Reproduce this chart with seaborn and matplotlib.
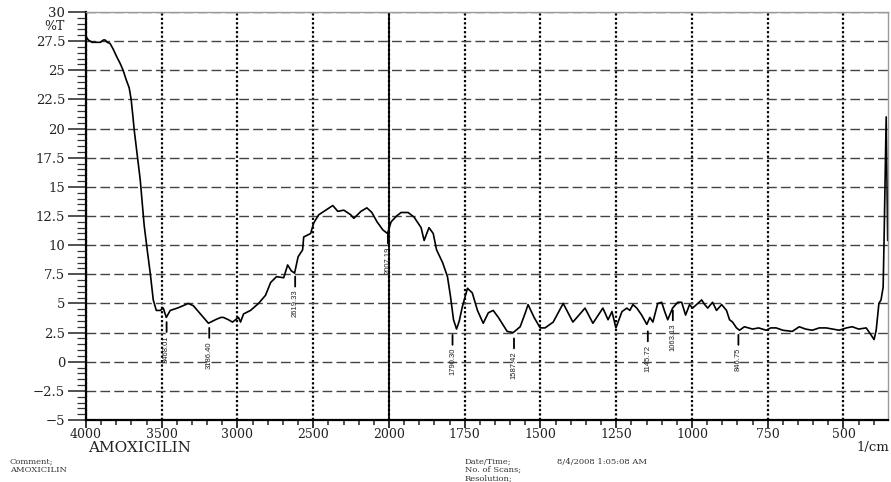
import numpy as np
import pandas as pd
import matplotlib
matplotlib.use("Agg")
import matplotlib.pyplot as plt
import seaborn as sns
from matplotlib.ticker import FixedLocator, FixedFormatter, NullFormatter

# ---------------- data ----------------
wavenumber = [4000, 3985, 3960, 3930, 3905, 3885, 3874, 3860, 3841, 3820, 3795, 3775, 3755,
              3735, 3715, 3702, 3690, 3682, 3660, 3642, 3616, 3596, 3576, 3556, 3536, 3510,
              3490, 3470, 3444, 3397, 3360, 3325, 3291, 3245, 3192, 3146, 3110, 3093, 3060,
              3033, 2993, 2980, 2960, 2914, 2861, 2815, 2781, 2742, 2695, 2669, 2645, 2623,
              2600, 2570, 2563, 2517, 2497, 2464, 2417, 2371, 2338, 2298, 2252, 2232, 2185,
              2146, 2113, 2079, 2040, 2010, 1993, 1975, 1960, 1937, 1917, 1894, 1884, 1868,
              1854, 1843, 1823, 1807, 1797, 1787, 1777, 1768, 1758, 1741, 1725, 1708, 1689,
              1672, 1656, 1639, 1610, 1590, 1567, 1550, 1541, 1521, 1501, 1485, 1458, 1425,
              1393, 1353, 1327, 1294, 1277, 1264, 1251, 1231, 1215, 1205, 1195, 1182, 1166,
              1149, 1139, 1129, 1113, 1100, 1090, 1080, 1064, 1047, 1034, 1021, 1008, 998,
              985, 968, 958, 948, 932, 919, 902, 886, 876, 866, 853, 843, 827, 800, 780, 755,
              740, 722, 700, 669, 646, 625, 603, 580, 557, 535, 514, 490, 471, 450, 425, 409,
              399, 392, 383, 376, 369, 366, 359, 354]
transmittance = [27.9, 27.6, 27.4, 27.4, 27.4, 27.6, 27.6, 27.4, 27.3, 26.8, 26.1, 25.6, 25.0,
                 24.2, 23.5, 22.5, 21.0, 19.9, 17.5, 15.6, 11.7, 9.6, 7.6, 5.3, 4.4, 4.4,
                 4.6, 3.8, 4.4, 4.6, 4.8, 5.0, 4.8, 4.1, 3.3, 3.6, 3.8, 3.8, 3.6,
                 3.4, 3.8, 3.4, 4.1, 4.4, 5.0, 5.7, 6.8, 7.3, 7.2, 8.3, 7.8, 7.6,
                 9.0, 9.6, 10.7, 11.0, 11.9, 12.6, 13.0, 13.4, 12.9, 13.0, 12.6, 12.3, 12.9,
                 13.2, 12.8, 12.0, 11.3, 11.0, 12.0, 12.5, 12.8, 12.8, 12.4, 11.5, 10.4, 11.5,
                 11.0, 9.6, 8.5, 7.3, 5.6, 3.6, 2.8, 3.5, 4.7, 6.3, 5.9, 4.4, 3.3,
                 4.2, 4.4, 3.8, 2.6, 2.5, 3.0, 4.2, 4.9, 3.8, 2.9, 2.9, 3.4, 5.0,
                 3.4, 4.6, 3.3, 4.6, 3.6, 4.3, 2.9, 4.3, 4.6, 4.4, 4.9, 4.6, 4.0,
                 3.2, 3.8, 3.4, 5.0, 5.1, 4.3, 3.6, 4.6, 5.1, 5.1, 4.0, 4.9, 4.6,
                 4.9, 5.3, 4.9, 4.6, 5.1, 4.4, 4.9, 4.4, 3.6, 3.4, 2.9, 2.7, 3.0, 2.8, 2.9, 2.7,
                 2.9, 2.9, 2.7, 2.6, 3.0, 2.8, 2.7, 2.9, 2.9, 2.8, 2.7, 2.9, 3.0, 2.8, 2.9, 2.3,
                 1.9, 2.7, 5.0, 5.3, 6.4, 10.4, 21.0, 10.4]

peak_wavenumbers = [3468.01, 3186.40, 2619.33, 2007.19, 1790.30, 1587.42, 1145.72, 1063.13, 846.75]
peak_labels = ["3468.01", "3186.40", "2619.33", "2007.19", "1790.30", "1587.42",
               "1145.72", "1063.13", "846.75"]
peak_marker_top = [3.4, 2.9, 7.3, 11.0, 2.3, 2.0, 2.6, 4.4, 2.3]

x_major_ticks = [4000, 3500, 3000, 2500, 2000, 1750, 1500, 1250, 1000, 750, 500]
x_tick_labels = ["4000", "3500", "3000", "2500", "2000", "1750", "1500", "1250",
                 "1000", "750", "500"]
y_major_ticks = [30, 27.5, 25, 22.5, 20, 17.5, 15, 12.5, 10, 7.5, 5, 2.5, 0, -2.5, -5]
y_tick_labels = ["30", "27.5", "25", "22.5", "20", "17.5", "15", "12.5", "10", "7.5",
                 "5", "2.5", "0", "\u22122.5", "\u22125"]
sample_name = "AMOXICILIN"
date_time = "8/4/2008 1:05:08 AM"

df = pd.DataFrame({"wn": wavenumber, "T": transmittance})

# ---------------- figure ----------------
sns.set_style("white")
plt.rcParams["font.family"] = ["DejaVu Serif"]

W, H = 891, 482
fig = plt.figure(figsize=(W / 100, H / 100), dpi=100)
ax = fig.add_axes([86 / W, 1 - 420 / H, (888 - 86) / W, 408 / H])

# axis break: scale below 2000 cm-1 is doubled (standard FTIR layout)
def fwd(x):
    x = np.asarray(x, dtype=float)
    return np.where(x >= 2000, x, 2 * x - 2000)

def inv(u):
    u = np.asarray(u, dtype=float)
    return np.where(u >= 2000, u, (u + 2000) / 2)

ax.set_xscale("function", functions=(fwd, inv))

sns.lineplot(data=df, x="wn", y="T", ax=ax, color="black", lw=1.2,
             sort=False, estimator=None)

ax.set_xlim(4000, 353)
ax.set_ylim(-5, 30)

minor_x = [v for v in list(np.arange(2100, 4000, 100)) + list(np.arange(400, 2000, 50))
           if v not in x_major_ticks]
ax.xaxis.set_major_locator(FixedLocator(x_major_ticks))
ax.xaxis.set_major_formatter(FixedFormatter(x_tick_labels))
ax.xaxis.set_minor_locator(FixedLocator(minor_x))
ax.xaxis.set_minor_formatter(NullFormatter())
minor_y = [v for v in np.arange(-5, 30.01, 0.5)
           if not np.isclose(v % 2.5, 0) and not np.isclose(v % 2.5, 2.5)]
ax.yaxis.set_major_locator(FixedLocator(y_major_ticks))
ax.yaxis.set_major_formatter(FixedFormatter(y_tick_labels))
ax.yaxis.set_minor_locator(FixedLocator(minor_y))
ax.yaxis.set_minor_formatter(NullFormatter())

ax.tick_params(axis="x", which="major", direction="out", length=5.5, width=1.3,
               pad=0.5, labelsize=9, colors="#222222", bottom=True)
ax.tick_params(axis="x", which="minor", direction="out", length=3.5, width=1.1,
               colors="#222222", bottom=True)
ax.tick_params(axis="y", which="major", direction="out", length=13, width=1.1,
               pad=2, labelsize=9.5, colors="#222222", left=True)
ax.tick_params(axis="y", which="minor", direction="out", length=6.5, width=0.9,
               colors="#333333", left=True)

ax.xaxis.grid(True, which="major", ls=(0, (1, 1)), lw=1.6, color="black")
ax.yaxis.grid(True, which="major", ls=(0, (7, 3)), lw=1.0, color="#444444")
ax.axvline(2000, color="black", lw=1.3, zorder=1.5)
ax.set_axisbelow(True)

for s in ["left", "bottom"]:
    ax.spines[s].set_color("black")
    ax.spines[s].set_linewidth(1.6)
for s in ["top", "right"]:
    ax.spines[s].set_color("#9a9a9a")
    ax.spines[s].set_linewidth(1.0)

ax.set_xlabel("")
ax.set_ylabel("")

# peak labels
for wn, lab, top in zip(peak_wavenumbers, peak_labels, peak_marker_top):
    ax.annotate(lab, xy=(wn, top), xytext=(0, -9.5), textcoords="offset points",
                rotation=90, ha="center", va="top", fontsize=5.5,
                family="Liberation Sans", color="#222222",
                arrowprops=dict(arrowstyle="-", lw=1.3, color="black",
                                shrinkA=0, shrinkB=0))

# axis texts
fig.text(65 / W, 1 - 27 / H, "%T", ha="right", va="center", fontsize=9, color="#222222")
fig.text(88 / W, 1 - 441 / H, sample_name, ha="left", va="top", fontsize=11,
         color="#222222")
fig.text(889 / W, 1 - 441 / H, "1/cm", ha="right", va="top", fontsize=9.5,
         color="#222222")

# footer
fs = 6
fig.text(10 / W, 1 - 462 / H, "Comment;", ha="left", va="center", fontsize=fs, color="#333333")
fig.text(10 / W, 1 - 470 / H, sample_name, ha="left", va="center", fontsize=fs, color="#333333")
fig.text(465 / W, 1 - 462 / H, "Date/Time;", ha="left", va="center", fontsize=fs, color="#333333")
fig.text(557 / W, 1 - 462 / H, date_time, ha="left", va="center", fontsize=fs, color="#333333")
fig.text(465 / W, 1 - 470 / H, "No. of Scans;", ha="left", va="center", fontsize=fs, color="#333333")
fig.text(465 / W, 1 - 479 / H, "Resolution;", ha="left", va="center", fontsize=fs, color="#333333")

fig.savefig("out.png", dpi=100)
